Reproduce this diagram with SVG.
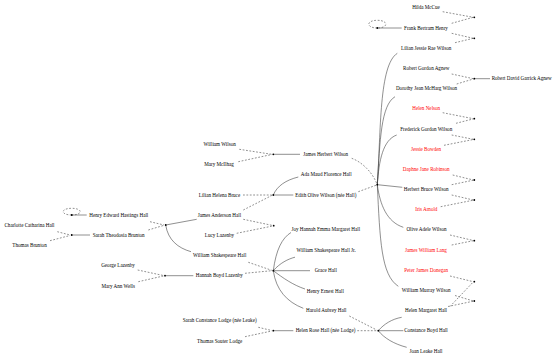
<svg xmlns="http://www.w3.org/2000/svg" width="557" height="360" viewBox="0 0 557 360">
<style>
text{font-family:"Liberation Serif","Times New Roman",serif;font-size:5.1px;text-anchor:middle;fill:#000}
text.sp{fill:#ff0000}
.e{fill:none;stroke:#333;stroke-width:0.55}
.d{fill:none;stroke:#333;stroke-width:0.55;stroke-dasharray:1.8,1.6}
.u{fill:#000}
</style>
<rect width="557" height="360" fill="#fff"/>
<g id="connectors">
<!-- right column parent edges -->
<path class="d" d="M442.7,11.7L473.3,17.3"/>
<path class="d" d="M451.7,23.3L473.3,17.3"/>
<path class="d" d="M451.7,33.3L473.3,38.3"/>
<path class="d" d="M455,42.7L473.3,38.3"/>
<path class="d" d="M451.7,74L473.3,78.7"/>
<path class="d" d="M456.7,84L473.3,79"/>
<path class="e" d="M474.3,78.7L490,78.7"/>
<path class="d" d="M442.7,112.7L473.3,118.7"/>
<path class="d" d="M456,123.3L473.3,118.9"/>
<path class="d" d="M451.7,135L473.3,139.3"/>
<path class="d" d="M444,145.3L473.3,139.5"/>
<path class="d" d="M452.7,175L473.3,180"/>
<path class="d" d="M451.7,184.7L473.3,180.2"/>
<path class="d" d="M451.7,195L473.3,200"/>
<path class="d" d="M440.7,206.7L473.3,200.2"/>
<path class="d" d="M450,235L473.3,240.5"/>
<path class="d" d="M451.7,245L473.3,240.7"/>
<path class="d" d="M450,276L473.3,281.7"/>
<path class="d" d="M455,295.5L473.3,301"/>
<path class="d" d="M450,306.5L473.3,281.9"/>
<path class="d" d="M448,306.5L473.3,301.2"/>
<!-- self loops -->
<path class="d" d="M377.3,28C366,28 366,20.3 377.3,20.3C388.6,20.3 388.6,28 377.3,28"/>
<path class="e" d="M377.3,28L401.7,28"/>
<path class="d" d="M71.7,215C60.4,215 60.4,208.3 71.7,208.3C83,208.3 83,215 71.7,215"/>
<path class="e" d="M71.7,215L86.7,215"/>
<!-- main family children -->
<path class="e" d="M377.3,184.7C381,130 379,65 397.3,53.3"/>
<path class="e" d="M377.3,184.7C380,140 381,105 395,96.7"/>
<path class="e" d="M377.3,184.7C379,160 383,140 396.7,135"/>
<path class="e" d="M377.3,184.7L402.3,187.3"/>
<path class="e" d="M377.3,184.7C380,205 387,222 403.3,227.3"/>
<path class="e" d="M377.3,184.7C380,240 381,275 398.3,286.3"/>
<path class="d" d="M351.7,158.3C362,162 372,172 376.7,183.3"/>
<path class="d" d="M358.3,191.7L376.7,185"/>
<!-- middle left -->
<path class="d" d="M239.3,149.3L271.7,154.3"/>
<path class="d" d="M238.3,161.7L271.7,154.5"/>
<path class="e" d="M273.3,154.3L300,154.3"/>
<path class="d" d="M243,195L271.7,195"/>
<path class="d" d="M243.3,210L271.7,195.5"/>
<path class="e" d="M273.3,195L293.3,195"/>
<path class="e" d="M273.3,195C277,186 286,180 298.3,177"/>
<path class="d" d="M243.3,219.3L272.7,225.5"/>
<path class="d" d="M236.7,233.3L272.7,226"/>
<path class="d" d="M150,221.7L164,225"/>
<path class="d" d="M148.3,230L164,225.3"/>
<path class="e" d="M165.7,225L196.7,219.3"/>
<path class="e" d="M165.7,225C168,240 178,248 191,251.7"/>
<path class="d" d="M57.3,231.7L70,235"/>
<path class="d" d="M50,240.7L70,235.5"/>
<path class="e" d="M71.7,235L90,235"/>
<path class="d" d="M137.7,270L163.3,275.5"/>
<path class="d" d="M138.3,281.7L163.3,276"/>
<path class="e" d="M165,275.7L193.3,275.7"/>
<path class="d" d="M248.3,262.3L271.7,270.3"/>
<path class="d" d="M245,273.3L271.7,270.7"/>
<path class="e" d="M273.3,270.7C276,250 282,238 291,232.5"/>
<path class="e" d="M273.3,270.7C280,263 288,259 295,257.2"/>
<path class="e" d="M273.3,270.7L310,270.7"/>
<path class="e" d="M273.3,270.7C283,278 293,285 305,289"/>
<path class="e" d="M273.3,270.7C276,290 287,302 303.3,308.3"/>
<path class="d" d="M349.3,316L376.7,330"/>
<path class="d" d="M357.3,330.7L376.7,330.7"/>
<path class="e" d="M378.3,330.7C384,324 392,319 401.7,317.3"/>
<path class="e" d="M378.3,330.7L403.3,330.7"/>
<path class="e" d="M378.3,330.7C384,338 394,344 406.7,347.3"/>
<path class="d" d="M258.3,327.3L271.7,330.5"/>
<path class="d" d="M245,336.7L271.7,331"/>
<path class="e" d="M273.3,330.7L293.3,330.7"/>
</g>
<g id="u-hilda-frank"><circle class="u" cx="474.3" cy="17.3" r="0.9"/></g>
<g id="u-frank-lilian"><circle class="u" cx="474.3" cy="38.3" r="0.9"/></g>
<g id="u-agnew"><circle class="u" cx="474.3" cy="78.7" r="0.9"/></g>
<g id="u-nelson-frederick"><circle class="u" cx="474.3" cy="118.7" r="0.9"/></g>
<g id="u-frederick-bowden"><circle class="u" cx="474.3" cy="139.3" r="0.9"/></g>
<g id="u-robinson-herbert"><circle class="u" cx="474.3" cy="180" r="0.9"/></g>
<g id="u-herbert-arnold"><circle class="u" cx="474.3" cy="200" r="0.9"/></g>
<g id="u-olive-lang"><circle class="u" cx="474.3" cy="240.7" r="0.9"/></g>
<g id="u-donegan-helen"><circle class="u" cx="474.3" cy="281.7" r="0.9"/></g>
<g id="u-murray-helen"><circle class="u" cx="474.3" cy="301" r="0.9"/></g>
<g id="u-frank-parents"><circle class="u" cx="377.3" cy="28" r="0.9"/></g>
<g id="u-henry-parents"><circle class="u" cx="71.7" cy="215" r="0.9"/></g>
<g id="u-wilson-main"><circle class="u" cx="377.3" cy="184.7" r="0.9"/></g>
<g id="u-wilson-mcilhag"><circle class="u" cx="273.3" cy="154.3" r="0.9"/></g>
<g id="u-bruce-hall"><circle class="u" cx="273.3" cy="195" r="0.9"/></g>
<g id="u-hall-lazenby-lucy"><circle class="u" cx="273.7" cy="225.7" r="0.9"/></g>
<g id="u-henry-sarah"><circle class="u" cx="165.7" cy="225" r="0.9"/></g>
<g id="u-charlotte-thomas"><circle class="u" cx="71.7" cy="235" r="0.9"/></g>
<g id="u-george-mary"><circle class="u" cx="165" cy="275.7" r="0.9"/></g>
<g id="u-william-hannah"><circle class="u" cx="273.3" cy="270.7" r="0.9"/></g>
<g id="u-lodge"><circle class="u" cx="273.3" cy="330.7" r="0.9"/></g>
<g id="u-harold-helen"><circle class="u" cx="378.3" cy="330.7" r="0.9"/></g>
<g id="hilda-mccue"><text x="426" y="9.2">Hilda McCue</text></g>
<g id="frank-bertram-henry"><text x="426" y="29.7">Frank Bertram Henry</text></g>
<g id="lilian-jessie-rae-wilson"><text x="426.2" y="50">Lilian Jessie Rae Wilson</text></g>
<g id="robert-gordon-agnew"><text x="426.2" y="70.1">Robert Gordon Agnew</text></g>
<g id="robert-david-garrick-agnew"><text x="521.7" y="80.4">Robert David Garrick Agnew</text></g>
<g id="dorothy-jean-mcharg-wilson"><text x="426.5" y="90.4">Dorothy Jean McHarg Wilson</text></g>
<g id="helen-nelson"><text class="sp" x="426.2" y="110.4">Helen Nelson</text></g>
<g id="frederick-gordon-wilson"><text x="426.2" y="130.7">Frederick Gordon Wilson</text></g>
<g id="jessie-bowden"><text class="sp" x="426" y="151">Jessie Bowden</text></g>
<g id="daphne-jane-robinson"><text class="sp" x="426.2" y="171">Daphne Jane Robinson</text></g>
<g id="herbert-bruce-wilson"><text x="426.2" y="191.4">Herbert Bruce Wilson</text></g>
<g id="iris-arnold"><text class="sp" x="426.3" y="211">Iris Arnold</text></g>
<g id="olive-adele-wilson"><text x="426.5" y="231.4">Olive Adele Wilson</text></g>
<g id="james-william-lang"><text class="sp" x="426" y="251.7">James William Lang</text></g>
<g id="peter-james-donegan"><text class="sp" x="426.2" y="272">Peter James Donegan</text></g>
<g id="william-murray-wilson"><text x="426.2" y="292.4">William Murray Wilson</text></g>
<g id="helen-margaret-hall"><text x="426" y="312.4">Helen Margaret Hall</text></g>
<g id="constance-boyd-hall"><text x="426" y="332.4">Constance Boyd Hall</text></g>
<g id="joan-leake-hall"><text x="426" y="352.7">Joan Leake Hall</text></g>
<g id="william-wilson"><text x="219.7" y="146">William Wilson</text></g>
<g id="mary-mcilhag"><text x="219" y="166.4">Mary McIlhag</text></g>
<g id="james-herbert-wilson"><text x="325.7" y="156">James Herbert Wilson</text></g>
<g id="ada-maud-florence-hall"><text x="326.2" y="176">Ada Maud Florence Hall</text></g>
<g id="edith-olive-wilson"><text x="325.8" y="196.7">Edith Olive Wilson (née Hall)</text></g>
<g id="lilian-helena-bruce"><text x="219.5" y="196.7">Lilian Helena Bruce</text></g>
<g id="james-anderson-hall"><text x="219.5" y="216.7">James Anderson Hall</text></g>
<g id="lucy-lazenby"><text x="219.5" y="237.2">Lucy Lazenby</text></g>
<g id="joy-hannah-emma-margaret-hall"><text x="325.8" y="231.2">Joy Hannah Emma Margaret Hall</text></g>
<g id="william-shakespeare-hall-jr"><text x="326.2" y="251.7">William Shakespeare Hall Jr.</text></g>
<g id="grace-hall"><text x="325.8" y="272.4">Grace Hall</text></g>
<g id="henry-ernest-hall"><text x="325.3" y="292.7">Henry Ernest Hall</text></g>
<g id="harold-aubrey-hall"><text x="326.3" y="312.4">Harold Aubrey Hall</text></g>
<g id="helen-rose-hall"><text x="325.5" y="332.4">Helen Rose Hall (née Lodge)</text></g>
<g id="william-shakespeare-hall"><text x="219.7" y="257.4">William Shakespeare Hall</text></g>
<g id="hannah-boyd-lazenby"><text x="219.3" y="277.4">Hannah Boyd Lazenby</text></g>
<g id="sarah-constance-lodge"><text x="219.7" y="322.4">Sarah Constance Lodge (née Leake)</text></g>
<g id="thomas-souter-lodge"><text x="219.7" y="342.7">Thomas Souter Lodge</text></g>
<g id="henry-edward-hastings-hall"><text x="118.8" y="217">Henry Edward Hastings Hall</text></g>
<g id="sarah-theodosia-brunton"><text x="118.7" y="237">Sarah Theodosia Brunton</text></g>
<g id="george-lazenby"><text x="118" y="267.4">George Lazenby</text></g>
<g id="mary-ann-wells"><text x="118.3" y="287.7">Mary Ann Wells</text></g>
<g id="charlotte-catharina-hall"><text x="29.5" y="226.7">Charlotte Catharina Hall</text></g>
<g id="thomas-brunton"><text x="29.5" y="247">Thomas Brunton</text></g>
</svg>
